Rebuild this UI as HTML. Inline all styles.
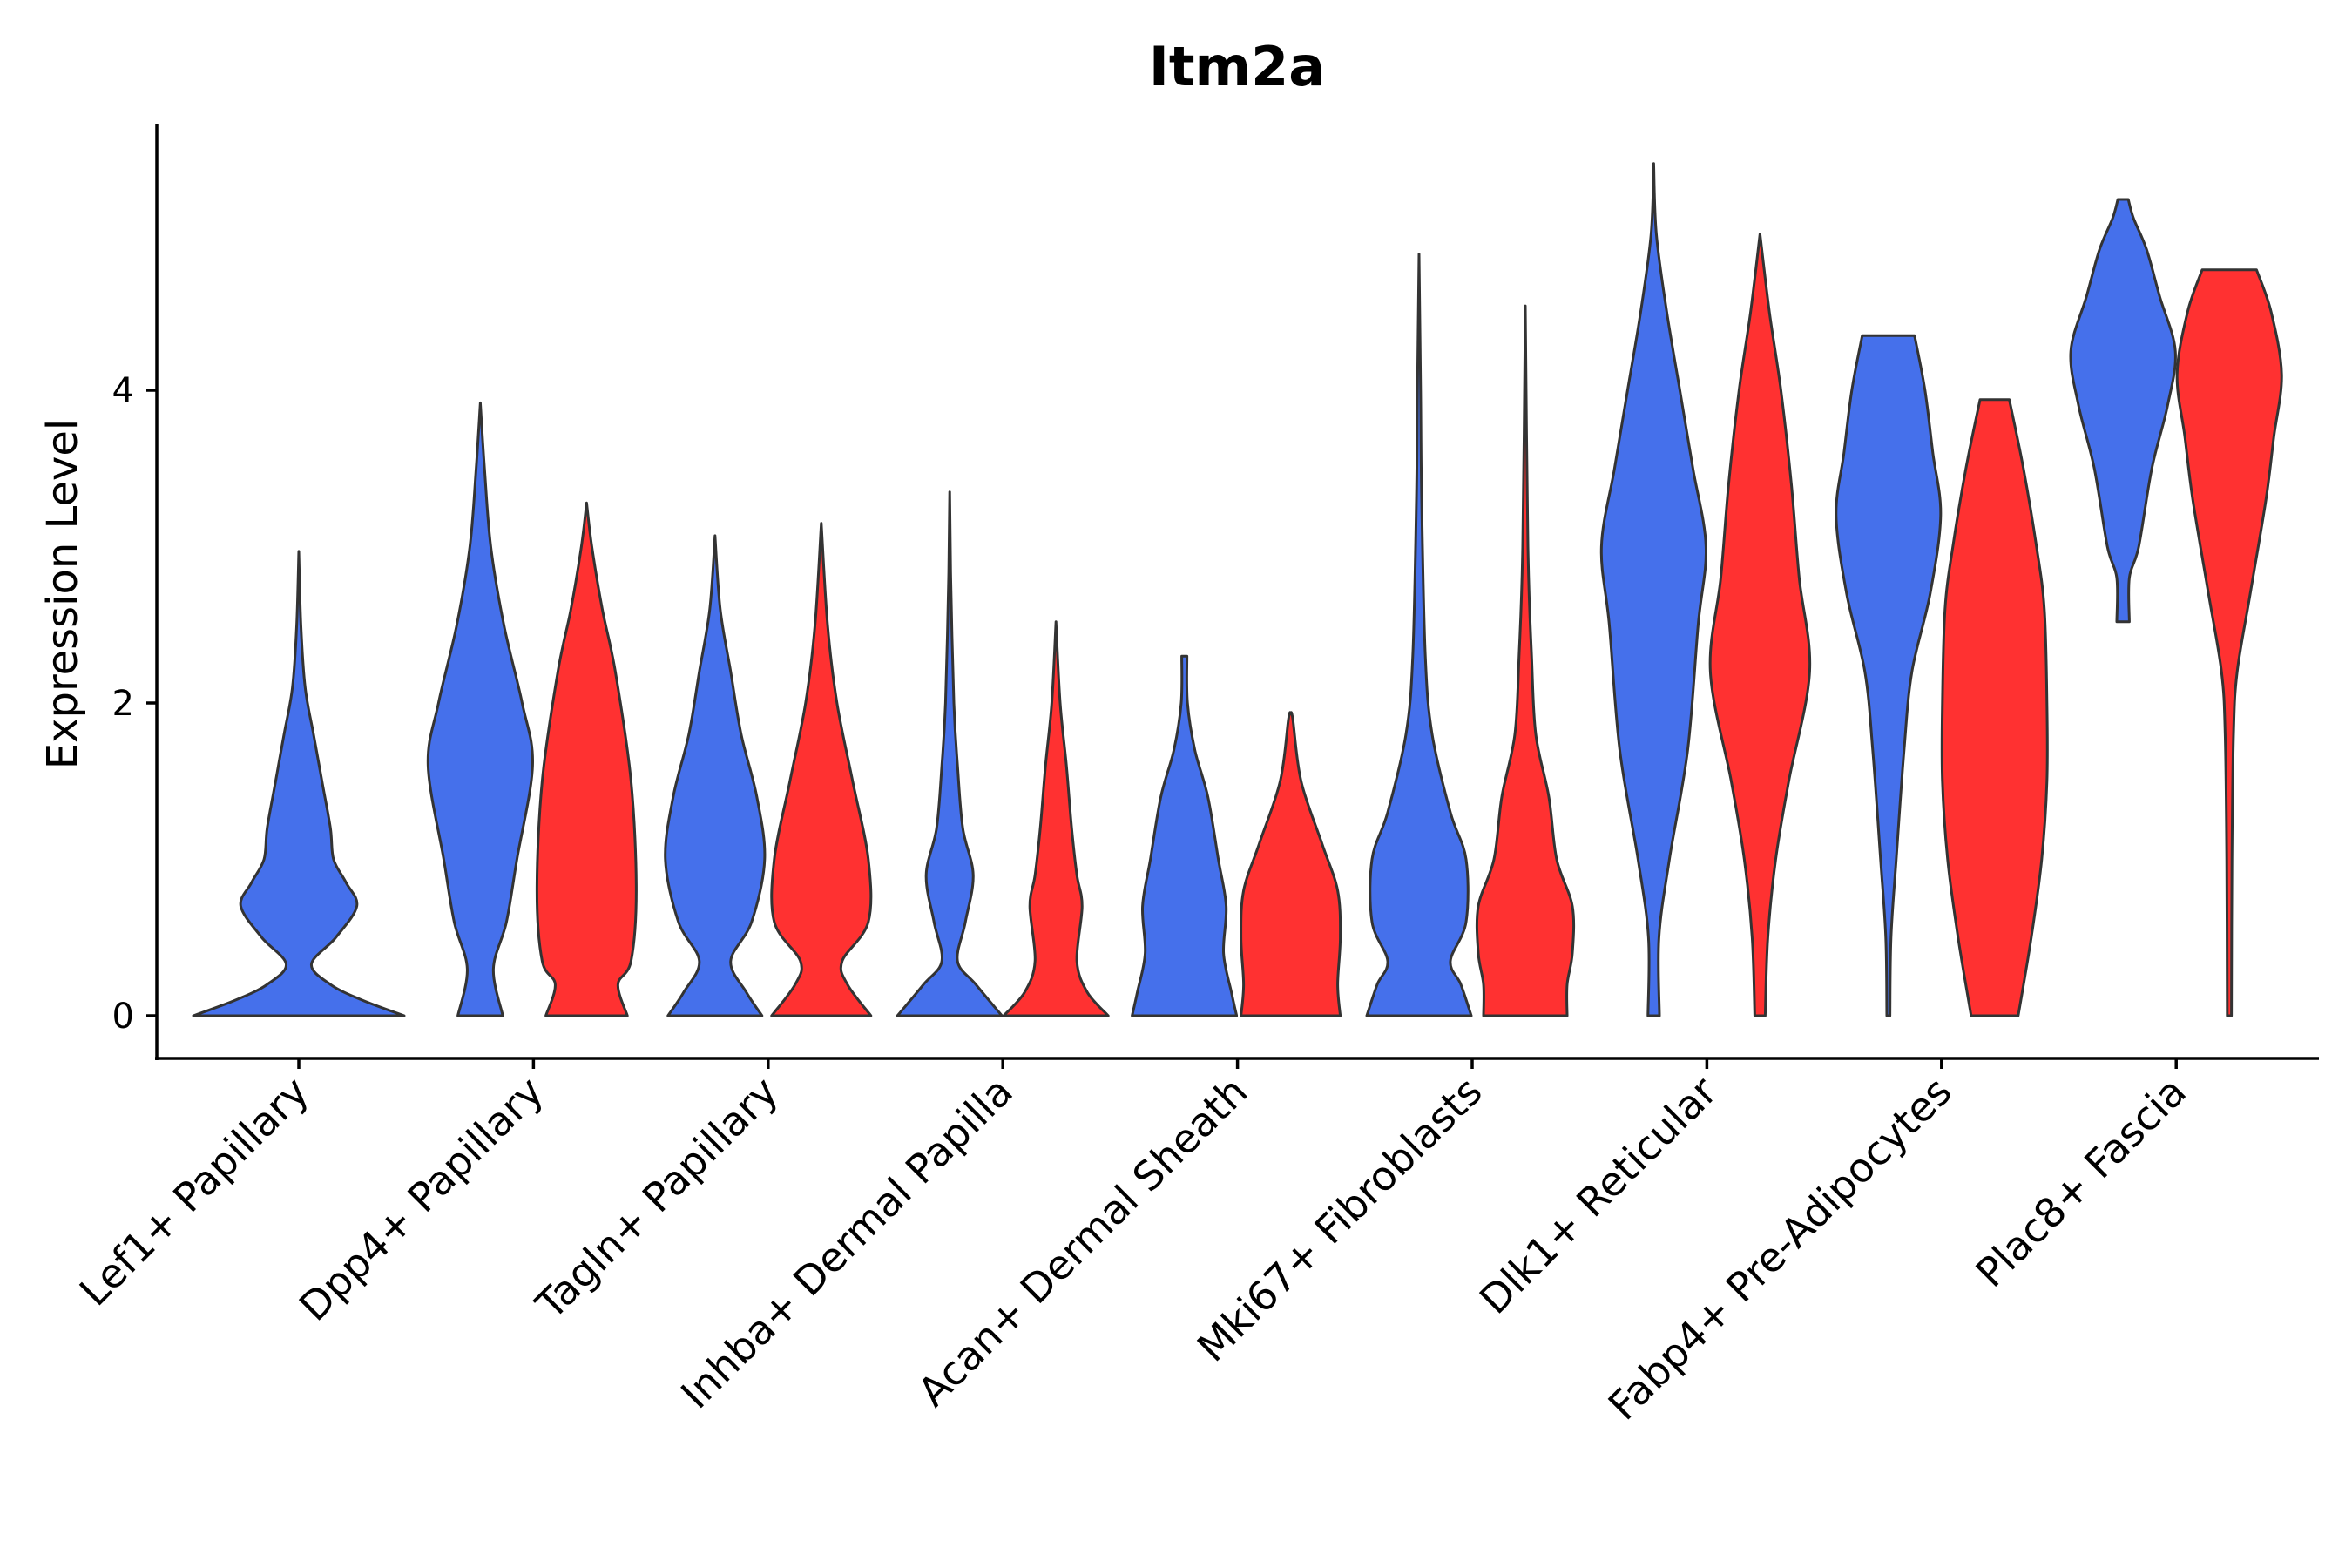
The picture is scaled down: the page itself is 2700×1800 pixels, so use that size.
<!DOCTYPE html>
<html><head><meta charset="utf-8"><style>
html,body{margin:0;padding:0;background:#fff;}
svg{display:block;}
text{font-family:"DejaVu Sans","Liberation Sans",sans-serif;fill:#000;}
</style></head><body>
<svg id="chart" width="2700" height="1800" viewBox="0 0 2700 1800" xmlns="http://www.w3.org/2000/svg">
<text x="1420" y="98" font-size="62" font-weight="bold" text-anchor="middle">Itm2a</text>
<text transform="translate(88,682) rotate(-90)" font-size="48" text-anchor="middle">Expression Level</text>
<g id="marks"></g>
<g id="axes"></g>
</svg>
<script>
const categories = ["Lef1+ Papillary","Dpp4+ Papillary","Tagln+ Papillary","Inhba+ Dermal Papilla","Acan+ Dermal Sheath","Mki67+ Fibroblasts","Dlk1+ Reticular","Fabp4+ Pre-Adipocytes","Plac8+ Fascia"];
const yTicks = [0,2,4];
// each violin: [y value, relative width]
const lef1Blue = [[0,1],[0.1,0.6],[0.2,0.3],[0.33,0.12],[0.5,0.35],[0.7,0.55],[0.85,0.45],[1.0,0.33],[1.2,0.3],[1.5,0.22],[1.8,0.14],[2.1,0.06],[2.5,0.02],[2.97,0]];
const dpp4Blue = [[0,0.43],[0.3,0.25],[0.6,0.5],[1.0,0.7],[1.6,1.0],[2.0,0.8],[2.5,0.45],[3.0,0.2],[3.5,0.08],[3.92,0]];
const dpp4Red = [[0,0.78],[0.2,0.6],[0.35,0.85],[0.8,0.95],[1.5,0.85],[2.2,0.55],[2.6,0.3],[3.0,0.1],[3.28,0]];
const taglnBlue = [[0,0.9],[0.15,0.6],[0.35,0.3],[0.6,0.7],[1.0,0.95],[1.4,0.8],[1.8,0.5],[2.2,0.3],[2.6,0.1],[3.07,0]];
const taglnRed = [[0,0.95],[0.2,0.5],[0.35,0.4],[0.6,0.9],[1.0,0.9],[1.5,0.6],[2.0,0.3],[2.5,0.12],[3.15,0]];
const inhbaBlue = [[0,1],[0.2,0.5],[0.35,0.15],[0.6,0.3],[0.9,0.45],[1.2,0.25],[1.6,0.15],[2.0,0.08],[2.8,0.02],[3.35,0]];
const inhbaRed = [[0,1],[0.15,0.6],[0.35,0.4],[0.7,0.5],[0.9,0.4],[1.2,0.3],[1.6,0.2],[2.0,0.08],[2.52,0]];
const acanBlue = [[0,1],[0.15,0.9],[0.4,0.75],[0.7,0.8],[1.0,0.65],[1.4,0.45],[1.7,0.2],[2.0,0.06],[2.3,0.05]];
const acanRed = [[0,0.95],[0.2,0.9],[0.5,0.95],[0.8,0.9],[1.1,0.6],[1.5,0.2],[1.9,0.04],[1.93,0]];
const mki67Blue = [[0,1],[0.2,0.8],[0.35,0.6],[0.6,0.9],[1.0,0.9],[1.3,0.6],[1.8,0.25],[2.3,0.12],[3.3,0.05],[4.0,0.03],[4.87,0]];
const mki67Red = [[0,0.8],[0.2,0.8],[0.4,0.9],[0.7,0.9],[1.0,0.6],[1.4,0.45],[1.8,0.2],[2.3,0.12],[3.0,0.05],[4.54,0]];
const dlk1Blue = [[0,0.11],[0.5,0.1],[1.0,0.3],[1.7,0.65],[2.5,0.85],[3.0,1.0],[3.5,0.75],[4.0,0.5],[4.5,0.25],[5.0,0.05],[5.45,0]];
const dlk1Red = [[0,0.1],[0.5,0.15],[1.0,0.3],[1.5,0.55],[2.2,0.95],[2.8,0.75],[3.4,0.6],[4.0,0.4],[4.5,0.18],[5.0,0]];
const fabp4Blue = [[0,0.03],[0.5,0.05],[1.0,0.15],[1.7,0.3],[2.2,0.45],[2.7,0.8],[3.2,1.0],[3.6,0.85],[4.0,0.7],[4.35,0.5]];
const fabp4Red = [[0,0.45],[0.5,0.7],[1.0,0.9],[1.5,1.0],[2.0,1.0],[2.6,0.95],[3.0,0.8],[3.5,0.55],[3.94,0.28]];
const plac8Blue = [[2.52,0.12],[2.8,0.12],[3.0,0.3],[3.5,0.55],[3.9,0.85],[4.25,1.0],[4.6,0.7],[4.9,0.45],[5.1,0.2],[5.22,0.1]];
const plac8Red = [[0,0.04],[1.0,0.05],[1.8,0.08],[2.2,0.15],[2.7,0.4],[3.3,0.7],[3.7,0.85],[4.1,1.0],[4.5,0.8],[4.77,0.52]];
const violins = [
 [0,"blue",lef1Blue,"lef1-blue"],
 [1,"blue",dpp4Blue,"dpp4-blue"],[1,"red",dpp4Red,"dpp4-red"],
 [2,"blue",taglnBlue,"tagln-blue"],[2,"red",taglnRed,"tagln-red"],
 [3,"blue",inhbaBlue,"inhba-blue"],[3,"red",inhbaRed,"inhba-red"],
 [4,"blue",acanBlue,"acan-blue"],[4,"red",acanRed,"acan-red"],
 [5,"blue",mki67Blue,"mki67-blue"],[5,"red",mki67Red,"mki67-red"],
 [6,"blue",dlk1Blue,"dlk1-blue"],[6,"red",dlk1Red,"dlk1-red"],
 [7,"blue",fabp4Blue,"fabp4-blue"],[7,"red",fabp4Red,"fabp4-red"],
 [8,"blue",plac8Blue,"plac8-blue"],[8,"red",plac8Red,"plac8-red"]
];
const NS="http://www.w3.org/2000/svg";
const X0=343, XSTEP=269.4, Y0=1166, YUNIT=179.5;
function xScale(i){return X0+i*XSTEP;}
function yScale(v){return Y0-v*YUNIT;}
const colors={blue:"#4570EB",red:"#FF3131"};
const marks=document.getElementById("marks");
function catmull(pts){
  let d="M"+pts[0][0].toFixed(1)+","+pts[0][1].toFixed(1);
  for(let i=0;i<pts.length-1;i++){
    const p0=pts[i-1]||pts[i],p1=pts[i],p2=pts[i+1],p3=pts[i+2]||p2;
    const c1=[p1[0]+(p2[0]-p0[0])/6,p1[1]+(p2[1]-p0[1])/6];
    const c2=[p2[0]-(p3[0]-p1[0])/6,p2[1]-(p3[1]-p1[1])/6];
    d+="C"+c1[0].toFixed(1)+","+c1[1].toFixed(1)+" "+c2[0].toFixed(1)+","+c2[1].toFixed(1)+" "+p2[0].toFixed(1)+","+p2[1].toFixed(1);
  }
  return d;
}
violins.forEach(v=>{
  const [ci,col,prof,name]=v;
  const single = ci===0;
  const cx = single?xScale(ci):xScale(ci)+(col==="blue"?-61:61);
  const hw = single?121:60;
  const right = prof.map(p=>[cx+p[1]*hw,yScale(p[0])]);
  const left = prof.slice().reverse().map(p=>[cx-p[1]*hw,yScale(p[0])]);
  let d=catmull(right)+"L"+left[0][0].toFixed(1)+","+left[0][1].toFixed(1);
  d+=catmull(left).replace(/^M[^C]*/,"")+"Z";
  const path=document.createElementNS(NS,"path");
  path.setAttribute("d",d);
  path.setAttribute("fill",colors[col]);
  path.setAttribute("stroke","#333");
  path.setAttribute("stroke-width","3");
  path.setAttribute("stroke-linejoin","round");
  
  
  marks.appendChild(path);
});
const axes=document.getElementById("axes");
function line(x1,y1,x2,y2,name){
  const l=document.createElementNS(NS,"line");
  l.setAttribute("x1",x1);l.setAttribute("y1",y1);l.setAttribute("x2",x2);l.setAttribute("y2",y2);
  l.setAttribute("stroke","#000");l.setAttribute("stroke-width","3.5");
  
  
  axes.appendChild(l);
}
line(180,142,180,1217,"y-axis-line");
line(178,1215,2662,1215,"x-axis-line");
yTicks.forEach(t=>{
  line(168,yScale(t),180,yScale(t),"y-tick");
  const tx=document.createElementNS(NS,"text");
  tx.setAttribute("x",154);tx.setAttribute("y",yScale(t)+14);
  tx.setAttribute("font-size","40");tx.setAttribute("text-anchor","end");
  tx.textContent=t;
  
  
  axes.appendChild(tx);
});
categories.forEach((c,i)=>{
  const x=xScale(i);
  line(x,1215,x,1227,"x-tick");
  const tx=document.createElementNS(NS,"text");
  tx.setAttribute("transform","translate("+(x+14)+",1256) rotate(-45)");
  tx.setAttribute("font-size","46");tx.setAttribute("text-anchor","end");
  tx.textContent=c;
  
  
  axes.appendChild(tx);
});
</script>
</body></html>
